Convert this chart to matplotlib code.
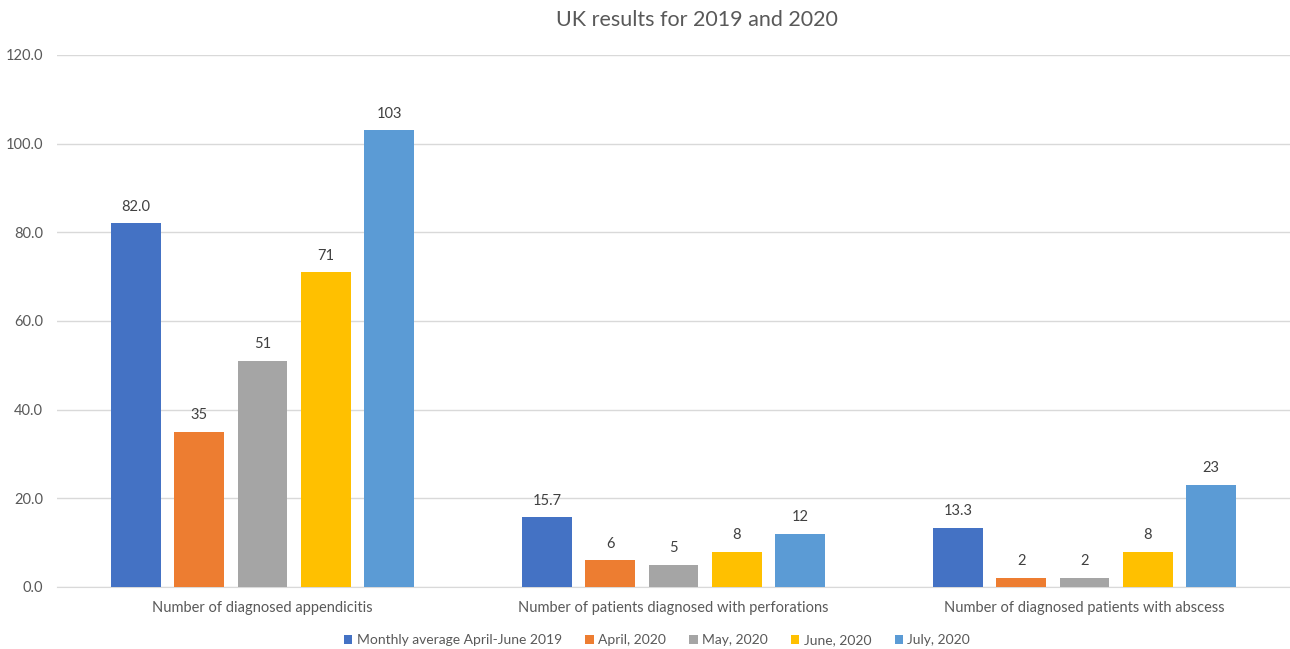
import matplotlib
matplotlib.use("Agg")
import matplotlib.pyplot as plt
import numpy as np

plt.rcParams['font.family'] = ['Lato', 'DejaVu Sans']

categories = ['Number of diagnosed appendicitis',
              'Number of patients diagnosed with perforations',
              'Number of diagnosed patients with abscess']
series_names = ['Monthly average April-June 2019', 'April, 2020', 'May, 2020',
                'June, 2020', 'July, 2020']
avg_2019 = [82.0, 15.7, 13.3]
april_2020 = [35, 6, 2]
may_2020 = [51, 5, 2]
june_2020 = [71, 8, 8]
july_2020 = [103, 12, 23]
values = [avg_2019, april_2020, may_2020, june_2020, july_2020]
label_fmt = ['{:.1f}', '{:.0f}', '{:.0f}', '{:.0f}', '{:.0f}']
colors = ['#4472C4', '#ED7D31', '#A5A5A5', '#FFC000', '#5B9BD5']
yticks = [0, 20, 40, 60, 80, 100, 120]

text_col = '#595959'
fig = plt.figure(figsize=(12.9, 6.49), dpi=100)
ax = fig.add_axes([57 / 1290, 62 / 649, 1 - 57 / 1290, (587 - 55) / 649])

x = np.arange(len(categories))
width = 0.1215
step = 0.154
for i, (name, vals) in enumerate(zip(series_names, values)):
    pos = x + (i - 2) * step
    bars = ax.bar(pos, vals, width, color=colors[i], label=name, zorder=3)
    ax.bar_label(bars, labels=[label_fmt[i].format(v) for v in vals],
                 padding=7, fontsize=10.5, color='#404040')

ax.set_xlim(-0.5, 2.5)
ax.set_ylim(0, 120)
ax.set_yticks(yticks)
ax.set_yticklabels(['{:.1f}'.format(t) for t in yticks])
ax.set_xticks(x)
ax.set_xticklabels(categories)
ax.tick_params(axis='both', length=0, labelsize=10.5, labelcolor=text_col)
ax.tick_params(axis='y', pad=10)
ax.tick_params(axis='x', pad=10)
ax.grid(axis='y', color='#D9D9D9', linewidth=1, zorder=0)
for s in ['top', 'right', 'left']:
    ax.spines[s].set_visible(False)
ax.spines['bottom'].set_color('#D9D9D9')

fig.text(697 / 1290, 1 - 20 / 649, 'UK results for 2019 and 2020',
         ha='center', va='center', fontsize=15.5, color=text_col)

fig.legend(loc='center', bbox_to_anchor=(657 / 1290, 1 - 640 / 649), ncol=5,
           frameon=False, fontsize=10, handlelength=0.6, handleheight=0.6,
           handletextpad=0.3, columnspacing=1.7, labelcolor=text_col)

fig.savefig('out.png', dpi=100)
